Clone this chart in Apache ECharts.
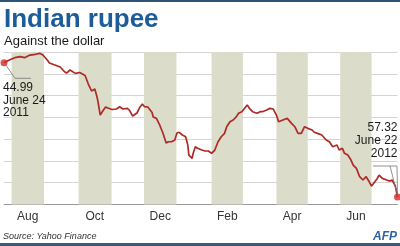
<!DOCTYPE html>
<html><head><meta charset="utf-8">
<script src="https://cdn.jsdelivr.net/npm/echarts@6/dist/echarts.min.js"></script>
<style>html,body{margin:0;padding:0;background:#fff}#c{width:400px;height:246px}</style>
</head><body><div id="c"></div>
<script>
// days since 24 June 2011
const days = [0,3,6,10,15,19,24,29,33,36,40,42,47,52,56,58,61,66,70,75,78,81,84,86,87,89,92,94,96,100,104,107,110,114,116,119,123,126,128,130,133,137,138,141,144,147,150,152,155,158,160,162,165,168,170,171,174,175,177,179,183,186,189,192,195,198,201,204,206,209,212,215,217,220,221,225,227,230,234,237,239,243,246,249,252,254,258,262,266,269,272,275,278,281,285,287,290,294,298,301,304,308,310,313,315,318,321,323,326,329,332,335,338,340,345,347,350,354,357,359,362,364];
// rupees per US dollar
const rupee = [44.99,44.83,44.69,44.52,44.43,44.52,44.28,44.21,44.12,44.28,44.73,45.01,45.19,45.38,45.81,45.93,45.65,45.96,45.88,46.16,46.94,47.58,47.40,48.10,48.59,49.79,49.33,49.05,49.14,49.28,49.23,49.02,49.23,49.17,49.33,49.88,49.60,49.02,48.78,49.02,49.05,49.56,49.97,50.09,50.70,51.44,52.36,52.24,52.24,52.08,51.44,51.37,51.62,51.78,52.54,53.46,53.76,53.30,52.70,52.84,53.00,53.09,53.09,53.30,53.00,52.24,51.78,51.47,50.86,50.40,50.24,49.93,49.63,49.48,49.33,48.87,49.17,49.48,49.63,49.48,49.48,49.33,49.17,49.23,49.79,50.40,50.24,50.09,50.55,50.86,51.47,51.47,50.86,51.01,51.16,51.37,51.47,51.62,52.08,52.24,52.70,52.54,53.00,52.84,53.30,53.46,53.92,54.38,54.68,55.45,55.75,55.45,55.94,56.31,55.66,55.30,55.60,55.75,55.85,55.75,56.31,57.32];
const bandStart = [7,69,129.5,192,252,311];
const bandEnd = [37,99.5,159.5,221,281,340];
const monthPos = [22,84,144.5,206.5,266.5,325.5];
const monthNames = ['Aug','Oct','Dec','Feb','Apr','Jun'];
const yMin = 44, yMax = 58, yStep = 2;
const startLabel = ['44.99','June 24','2011'];
const endLabel = ['57.32','June 22','2012'];

const FONT = '"Liberation Sans", Arial, Helvetica, sans-serif';
const chart = echarts.init(document.getElementById('c'), null, {renderer:'canvas'});
chart.setOption({
  animation:false,
  grid:{left:4,right:2.5,top:52,bottom:41.5,containLabel:false},
  xAxis:{type:'value',min:0,max:364,
    axisLine:{show:true,onZero:false,lineStyle:{color:'#9a9a9a',width:1}},
    axisTick:{show:false},splitLine:{show:false},
    axisLabel:{customValues:monthPos,margin:6,fontSize:12,color:'#333',fontFamily:FONT,
      formatter:function(v){const i=monthPos.indexOf(v);return i>=0?monthNames[i]:'';}}},
  yAxis:{type:'value',inverse:true,min:yMin,max:yMax,interval:yStep,
    axisLine:{show:false},axisTick:{show:false},axisLabel:{show:false},
    splitLine:{show:true,lineStyle:{color:'#d4d4d4',width:1}}},
  series:[
    {type:'line',data:days.map((d,i)=>[d,rupee[i]]),showSymbol:false,
     lineStyle:{color:'#ad2a25',width:1.7},z:3,
     markArea:{silent:true,itemStyle:{color:'#dcdccb'},
       data:bandStart.map((s,i)=>[{xAxis:s},{xAxis:bandEnd[i]}])}},
    {type:'scatter',data:[[days[0],rupee[0]],[days[days.length-1],rupee[rupee.length-1]]],
     symbolSize:7,itemStyle:{color:'#d22b2b'},z:4,clip:false}
  ]
});
const p0 = chart.convertToPixel({gridIndex:0},[days[0],rupee[0]]);
const p1 = chart.convertToPixel({gridIndex:0},[days[days.length-1],rupee[rupee.length-1]]);
const g = [];
const Z = 100;
g.push({type:'rect',z:Z,shape:{x:0,y:0,width:400,height:2},style:{fill:'#2e5478'}});
g.push({type:'rect',z:Z,shape:{x:0,y:243,width:400,height:3},style:{fill:'#3a5a7c'}});
g.push({type:'text',z:Z,style:{text:'Indian rupee',x:4,y:19.5,font:'bold 26px '+FONT,fill:'#1c5c98',textAlign:'left',textVerticalAlign:'middle'}});
g.push({type:'text',z:Z,style:{text:'Against the dollar',x:4,y:41.5,font:'13px '+FONT,fill:'#1a1a1a',textAlign:'left',textVerticalAlign:'middle'}});
g.push({type:'text',z:Z,style:{text:'Source: Yahoo Finance',x:3,y:236.5,font:'italic 9px '+FONT,fill:'#333',textAlign:'left',textVerticalAlign:'middle'}});
g.push({type:'text',z:Z,style:{text:'AFP',x:397,y:236.5,font:'italic bold 12px '+FONT,fill:'#2a64a8',textAlign:'right',textVerticalAlign:'middle'}});
g.push({type:'polyline',z:Z,shape:{points:[[p0[0]+1,p0[1]+1],[15,78.3],[31,78.3]]},style:{stroke:'#777',lineWidth:0.8,fill:null}});
startLabel.forEach((t,i)=>g.push({type:'text',z:Z,style:{text:t,x:3,y:88+i*12.4,font:'12px '+FONT,fill:'#1a1a1a',textAlign:'left',textVerticalAlign:'middle'}}));
g.push({type:'polyline',z:Z,shape:{points:[[373,166],[397,166],[p1[0],p1[1]-2]]},style:{stroke:'#777',lineWidth:0.8,fill:null}});
g.push({type:'line',z:Z,shape:{x1:390,y1:166,x2:p1[0],y2:p1[1]-2},style:{stroke:'#777',lineWidth:0.8}});
endLabel.forEach((t,i)=>g.push({type:'text',z:Z,style:{text:t,x:397.5,y:127.5+i*13.3,font:'12px '+FONT,fill:'#1a1a1a',textAlign:'right',textVerticalAlign:'middle'}}));
chart.setOption({graphic:g});
</script></body></html>
